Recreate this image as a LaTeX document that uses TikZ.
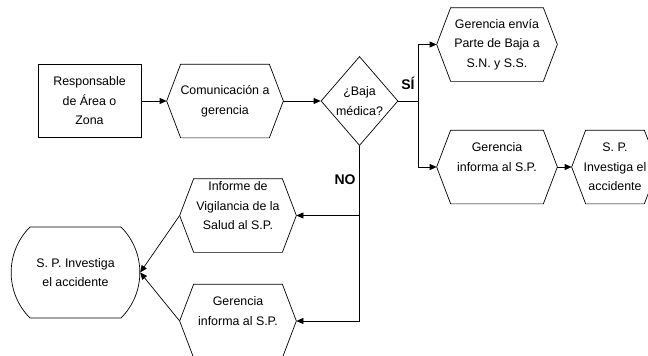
\documentclass[tikz,border=0pt]{standalone}
\usepackage{fontspec}
\setmainfont{Liberation Sans}
\usetikzlibrary{shapes.geometric,shapes.misc,arrows.meta}

\begin{document}
\begin{tikzpicture}[x=1pt,y=-1pt, line width=0.7pt,
    font=\fontsize{12.4}{19.5}\selectfont,
    caja/.style={draw, minimum width=103pt, minimum height=73pt, inner sep=0pt, align=center},
    hexa/.style={minimum width=116pt, minimum height=73pt, inner sep=0pt, align=center},
    decision/.style={draw, diamond, aspect=0.85, minimum width=77pt, minimum height=89pt, inner sep=0pt, align=center},
    terminal/.style={draw, rounded rectangle, rounded rectangle arc length=90,
        minimum width=125pt, minimum height=91pt, inner sep=0pt, align=center},
    flecha/.style={-{Triangle[length=7pt,width=6pt]}},
    etiqueta/.style={font=\fontsize{14}{16}\selectfont\bfseries}]
    \useasboundingbox (0,0) rectangle (648,356);
    \clip (0,0) rectangle (648,356);
    \node[caja] (resp) at (89.5,101) {Responsable\\de Área o\\Zona};
    \node[hexa] (comun) at (225,101) {Comunicación a\\gerencia};
    \node[decision] (baja) at (359.5,101) {¿Baja\\médica?};
    \node[hexa, minimum width=120pt] (envia) at (497,44.5) {Gerencia envía\\Parte de Baja a\\S.N. y S.S.};
    \node[hexa, minimum width=120pt] (informa) at (497,167) {Gerencia\\informa al S.P.\\~};
    \node[hexa, minimum width=86pt] (investiga) at (615,167) {S. P.\\Investiga el\\accidente};
    \node[hexa] (vigilancia) at (238,215.5) {Informe de\\Vigilancia de la\\Salud al S.P.\\~};
    \node[hexa] (informados) at (238,321) {Gerencia\\informa al S.P.\\~};
    \node[terminal] (final) at (75.5,272.5) {S. P. Investiga\\el accidente};
    \coordinate (si) at (418,101);
    \node[etiqueta] (etsi) at (408,83) {SÍ};
    \node[etiqueta] (etno) at (345,180) {NO};

    \foreach \n in {comun,envia,informa,investiga,vigilancia,informados}
        \draw ([xshift=14pt]\n.north west) -- ([xshift=-14pt]\n.north east) -- (\n.east)
            -- ([xshift=-14pt]\n.south east) -- ([xshift=14pt]\n.south west) -- (\n.west) -- cycle;

    \draw[flecha] (resp) -- (comun);
    \draw[flecha] (comun) -- (baja);
    \draw (baja.east) -- (si);
    \draw[flecha] (si) |- (envia.west);
    \draw[flecha] (si) |- (informa.west);
    \draw[flecha] (informa.east) -- (investiga.west);
    \draw[flecha] (baja.south) |- (vigilancia.east);
    \draw[flecha] (baja.south) |- (informados.east);
    \draw[flecha] (vigilancia.west) -- (final.east);
    \draw[flecha] (informados.west) -- (final.east);
\end{tikzpicture}
\end{document}
